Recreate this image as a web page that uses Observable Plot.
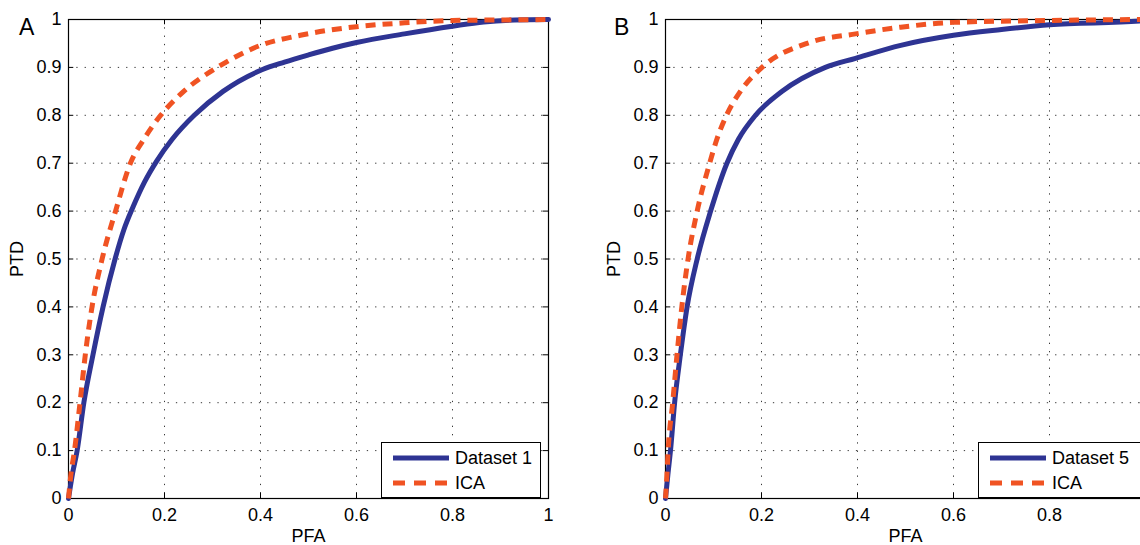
<!DOCTYPE html>
<html>
<head>
<meta charset="utf-8">
<script src="https://cdn.jsdelivr.net/npm/d3@7"></script>
<script src="https://cdn.jsdelivr.net/npm/@observablehq/plot@0.6"></script>
<style>
  html, body { margin: 0; padding: 0; background: #fff; }
  body { width: 1140px; height: 545px; overflow: hidden; position: relative; font-family: "Liberation Sans", Arial, Helvetica, sans-serif; }
  .panel { position: absolute; top: 0; height: 545px; }
  .panel svg { max-width: none !important; display: block; }
  .tag { position: absolute; font-size: 23px; line-height: 1; color: #000; }
  .legend { position: absolute; background: #fff; border: 1px solid #000; box-sizing: border-box; font-size: 18px; }
  .legend .row { position: absolute; left: 0; height: 20px; display: flex; align-items: center; }
  .legend svg { display: block; }
</style>
</head>
<body>
<div id="A" class="panel" style="left:0px; width:570px"></div>
<div id="B" class="panel" style="left:570px; width:600px"></div>
<div class="tag" style="left:19px; top:16px">A</div>
<div class="tag" style="left:614px; top:16px">B</div>
<div id="legA" class="legend" style="left:381px; top:442px; width:160px; height:56px"></div>
<div id="legB" class="legend" style="left:978px; top:442px; width:166px; height:56px"></div>
<script>
// ---- data (PFA, PTD) ----
const xTicks = [0, 0.2, 0.4, 0.6, 0.8, 1];
const xTickLabelsB = [0, 0.2, 0.4, 0.6, 0.8]; // "1" falls outside the picture in panel B
const yTicks = [0, 0.1, 0.2, 0.3, 0.4, 0.5, 0.6, 0.7, 0.8, 0.9, 1];
const seriesNamesA = ["Dataset 1", "ICA"];
const seriesNamesB = ["Dataset 5", "ICA"];

const pfaA1 = [0, 0.008, 0.018, 0.032, 0.051, 0.072, 0.097, 0.115, 0.135, 0.158, 0.184, 0.216, 0.262, 0.322, 0.403, 0.45, 0.5, 0.55, 0.6, 0.7, 0.8, 0.865, 0.93, 1];
const ptdA1 = [0, 0.05, 0.1, 0.2, 0.3, 0.4, 0.5, 0.56, 0.61, 0.66, 0.705, 0.75, 0.8, 0.85, 0.895, 0.911, 0.926, 0.94, 0.952, 0.97, 0.986, 0.995, 0.999, 1];

const pfaA2 = [0, 0.005, 0.0125, 0.024, 0.035, 0.049, 0.07, 0.098, 0.129, 0.157, 0.192, 0.24, 0.31, 0.4, 0.483, 0.6, 0.7, 0.8, 0.9, 1];
const ptdA2 = [0, 0.05, 0.1, 0.2, 0.3, 0.4, 0.5, 0.6, 0.7, 0.75, 0.8, 0.85, 0.9, 0.946, 0.967, 0.985, 0.993, 0.998, 0.999, 1];

const pfaB1 = [0, 0.005, 0.0104, 0.019, 0.031, 0.045, 0.066, 0.094, 0.128, 0.152, 0.1875, 0.243, 0.333, 0.396, 0.49, 0.6, 0.7, 0.8, 0.99, 1];
const ptdB1 = [0, 0.05, 0.1, 0.2, 0.3, 0.4, 0.5, 0.6, 0.7, 0.75, 0.8, 0.85, 0.9, 0.919, 0.946, 0.967, 0.979, 0.989, 0.997, 1];

const pfaB2 = [0, 0.003, 0.0055, 0.015, 0.024, 0.034, 0.047, 0.066, 0.092, 0.107, 0.127, 0.156, 0.201, 0.3, 0.396, 0.49, 0.6, 0.8, 1];
const ptdB2 = [0, 0.05, 0.1, 0.2, 0.3, 0.4, 0.5, 0.6, 0.7, 0.75, 0.8, 0.85, 0.9, 0.952, 0.970, 0.984, 0.994, 0.998, 1];

const BLUE = "#2e3493";
const ORANGE = "#f05323";
const DASH = "10,7";

const rows = (fs, ps) => fs.map((f, i) => ({pfa: f, ptd: ps[i]}));
const fmt = d => String(+d.toFixed(1));

function panel(el, s1, s2, marginLeft, width, xLabels) {
  const chart = Plot.plot({
    width, height: 545,
    marginLeft, marginRight: width - marginLeft - 480, marginTop: 19, marginBottom: 47,
    x: {domain: [0, 1]},
    y: {domain: [0, 1]},
    style: {fontFamily: "'Liberation Sans', Arial, Helvetica, sans-serif", fontSize: "18px", background: "transparent", color: "#000", overflow: "visible", maxWidth: "none"},
    marks: [
      Plot.gridX(xTicks, {stroke: "#222", strokeOpacity: 0.9, strokeDasharray: "1.3,7", strokeWidth: 1}),
      Plot.gridY(yTicks, {stroke: "#222", strokeOpacity: 0.9, strokeDasharray: "1.3,7", strokeWidth: 1}),
      Plot.axisX(xLabels, {tickSize: 0, tickPadding: 10, tickFormat: fmt, label: "PFA", labelAnchor: "center", labelArrow: "none", labelOffset: 43}),
      Plot.axisY(yTicks, {tickSize: 0, tickPadding: 7, tickFormat: fmt, label: "PTD", labelAnchor: "center", labelArrow: "none", labelOffset: 58}),
      Plot.ruleX(xTicks, {x: d => d, y1: 0, y2: 0.011, stroke: "#000"}),
      Plot.ruleX(xTicks, {x: d => d, y1: 1, y2: 0.989, stroke: "#000"}),
      Plot.ruleY(yTicks, {y: d => d, x1: 0, x2: 0.011, stroke: "#000"}),
      Plot.ruleY(yTicks, {y: d => d, x1: 1, x2: 0.989, stroke: "#000"}),
      Plot.frame({stroke: "#000", strokeWidth: 1.2}),
      Plot.line(s1, {x: "pfa", y: "ptd", stroke: BLUE, strokeWidth: 5, curve: "monotone-x"}),
      Plot.line(s2, {x: "pfa", y: "ptd", stroke: ORANGE, strokeWidth: 5, strokeDasharray: DASH, curve: "monotone-x", strokeLinecap: "butt"})
    ]
  });
  document.getElementById(el).appendChild(chart);
}

panel("A", rows(pfaA1, ptdA1), rows(pfaA2, ptdA2), 68, 570, xTicks);
panel("B", rows(pfaB1, ptdB1), rows(pfaB2, ptdB2), 95, 600, xTickLabelsB);

function legend(el, names) {
  const box = document.getElementById(el);
  const styles = [{stroke: BLUE, dash: null}, {stroke: ORANGE, dash: DASH}];
  names.forEach((name, i) => {
    const row = document.createElement("div");
    row.className = "row";
    row.style.top = (5 + i * 25) + "px";
    row.style.left = "11px";
    const ns = "http://www.w3.org/2000/svg";
    const svg = document.createElementNS(ns, "svg");
    svg.setAttribute("width", 56); svg.setAttribute("height", 20);
    const ln = document.createElementNS(ns, "line");
    ln.setAttribute("x1", 0); ln.setAttribute("x2", 56);
    ln.setAttribute("y1", 10); ln.setAttribute("y2", 10);
    ln.setAttribute("stroke", styles[i].stroke);
    ln.setAttribute("stroke-width", 5);
    if (styles[i].dash) ln.setAttribute("stroke-dasharray", "12,9");
    svg.appendChild(ln);
    row.appendChild(svg);
    const t = document.createElement("span");
    t.textContent = name;
    t.style.marginLeft = "6px";
    row.appendChild(t);
    box.appendChild(row);
  });
}
legend("legA", seriesNamesA);
legend("legB", seriesNamesB);
</script>
</body>
</html>
